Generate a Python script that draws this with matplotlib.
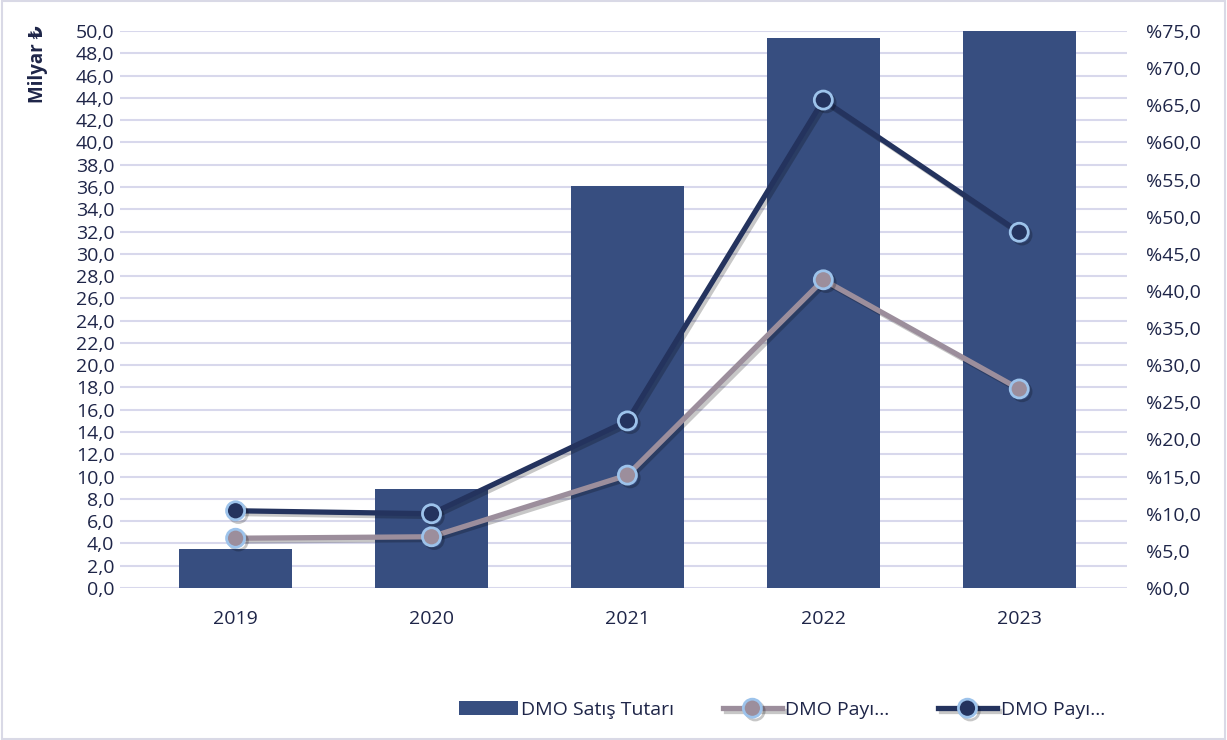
import numpy as np
import matplotlib
matplotlib.use("Agg")
import matplotlib.pyplot as plt
import matplotlib.patheffects as pe
from matplotlib.patches import Rectangle
from matplotlib.ticker import FuncFormatter, MultipleLocator

plt.rcParams['font.family'] = ['Open Sans', 'DejaVu Sans']

years = ["2019", "2020", "2021", "2022", "2023"]
satis = [3.5, 8.9, 36.1, 49.4, 52.0]          # Milyar TL
pay_gri = [6.7, 6.9, 15.2, 41.5, 26.8]        # %
pay_koyu = [10.4, 10.0, 22.5, 65.7, 47.9]     # %

txt = "#1E2548"
bar_c = "#374E80"
grid_c = "#D8D8EC"
gray_c = "#9C8E9C"
dark_c = "#24335E"
edge_c = "#9DC3EB"

fig = plt.figure(figsize=(12.27, 7.40), dpi=100)
ax = fig.add_axes([120/1227, 1-588/740, 1007/1227, 557/740])
ax2 = ax.twinx()

x = np.arange(len(years))
bars = ax.bar(x, satis, width=0.575, color=bar_c, zorder=2, label="DMO Satış Tutarı")

ax.set_ylim(0, 50)
ax.set_xlim(-0.59, 4.55)
ax.yaxis.set_major_locator(MultipleLocator(2))
ax.yaxis.set_major_formatter(FuncFormatter(lambda v, p: f"{v:.1f}".replace(".", ",")))
ax.grid(axis="y", color=grid_c, linewidth=1.5, zorder=0)
ax.set_axisbelow(True)
ax.set_xticks(x)
ax.set_xticklabels(years)

shadow = [pe.SimpleLineShadow(offset=(2, -2), alpha=0.22, shadow_color="black"), pe.Normal()]
l1, = ax2.plot(x, pay_gri, color=gray_c, lw=3.8, marker="o", ms=13, mfc=gray_c,
               mec=edge_c, mew=2, zorder=3, path_effects=shadow, label="DMO Payı...")
l2, = ax2.plot(x, pay_koyu, color=dark_c, lw=3.8, marker="o", ms=13, mfc=dark_c,
               mec=edge_c, mew=2, zorder=4, path_effects=shadow, label="DMO Payı...")
ax2.set_ylim(0, 75)
ax2.yaxis.set_major_locator(MultipleLocator(5))
ax2.yaxis.set_major_formatter(FuncFormatter(lambda v, p: "%" + f"{v:.1f}".replace(".", ",")))

for a in (ax, ax2):
    for s in a.spines.values():
        s.set_visible(False)
    a.tick_params(length=0, labelsize=14, colors=txt)
ax.tick_params(axis="y", pad=4)
ax2.tick_params(axis="y", pad=14)
ax.tick_params(axis="x", pad=16)

fig.text(38/1227, 1-64/740, "Milyar ₺", rotation=90, ha="center", va="center",
         fontsize=13.5, fontweight="bold", color=txt)

fig.legend([bars, l1, l2], ["DMO Satış Tutarı", "DMO Payı...", "DMO Payı..."],
           loc="center", bbox_to_anchor=(782/1227, 1-710/740), ncol=3, frameon=False,
           fontsize=14, labelcolor=txt, handlelength=3.0, handletextpad=0.2,
           columnspacing=2.5)

fig.patches.append(Rectangle((0.002, 0.002), 0.996, 0.996, transform=fig.transFigure,
                             fill=False, edgecolor="#D9D9E6", linewidth=1.5))

fig.savefig("out.png", dpi=100)
